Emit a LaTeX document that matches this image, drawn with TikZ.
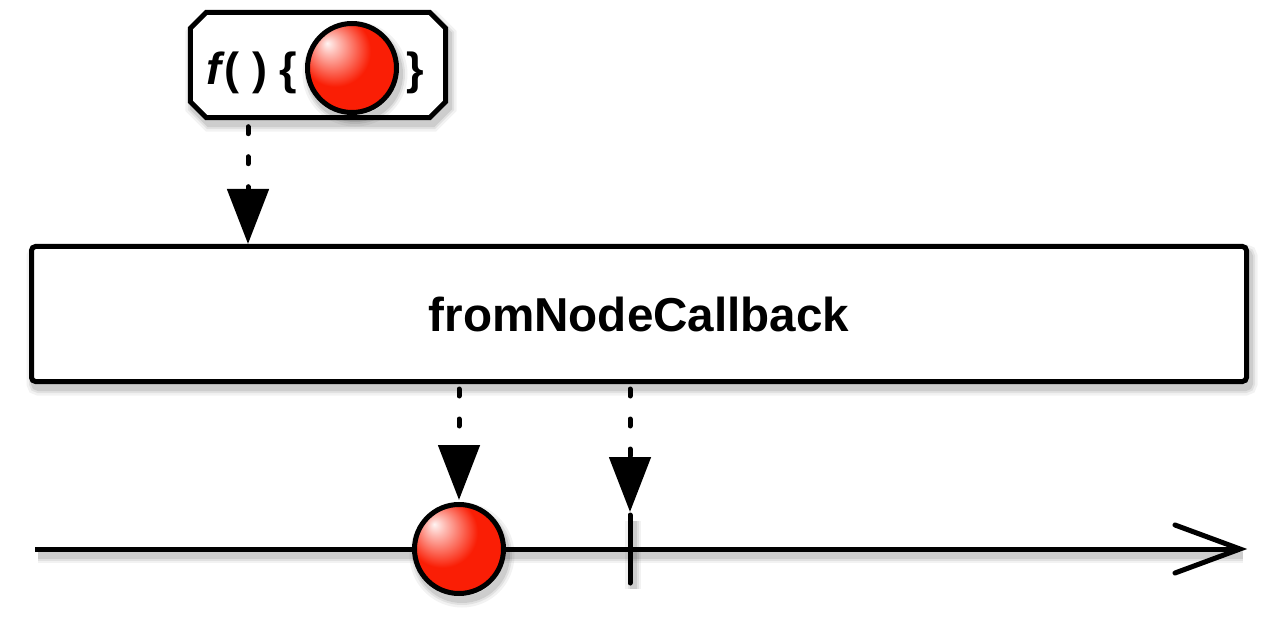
\documentclass[tikz,border=0pt]{standalone}
\usepackage{fontspec}
\setmainfont{Liberation Sans}
\usetikzlibrary{arrows.meta,calc}
\definecolor{ballred}{RGB}{250,30,5}
\pgfdeclareradialshading{redball}{\pgfpoint{-14bp}{14bp}}{%
  color(0bp)=(white!95!ballred); color(5bp)=(white!70!ballred); color(20bp)=(ballred);
  color(36bp)=(ballred); color(48bp)=(ballred!75!black); color(62bp)=(ballred!50!black)}
\begin{document}
\begin{tikzpicture}[x=1pt,y=-1pt,
  thick line/.style={line width=5pt},
  softshadow/.style={
    preaction={draw=black,opacity=0.05,line width=16pt,transform canvas={shift={(3pt,-6pt)}}},
    preaction={draw=black,opacity=0.07,line width=11pt,transform canvas={shift={(3pt,-6pt)}}},
    preaction={draw=black,opacity=0.09,line width=7pt,transform canvas={shift={(3pt,-6pt)}}}},
  dotline/.style={line width=5pt, line cap=round, dash pattern=on 7pt off 23pt,
    -{Triangle[length=55pt,width=41pt]}},
  ballnode/.style={circle, draw=black, line width=5pt, shading=redball,
    minimum size=89pt, inner sep=0pt, softshadow},
  funcframe/.style={draw=black, fill=white, line width=5pt, line join=miter, softshadow},
  mainbox/.style={rectangle, rounded corners=4pt, draw=black, fill=white, line width=5pt,
    minimum width=1215pt, minimum height=135pt, inner sep=0pt, softshadow,
    font=\fontsize{47.6}{50}\selectfont\bfseries},
  txt/.style={inner sep=0pt, font=\fontsize{45}{48}\selectfont\bfseries},
]
\useasboundingbox (0,0) rectangle (1280,620);

% function box (chamfered frame)
\node[minimum width=255pt, minimum height=105pt, inner sep=0pt] (fbox) at (318,65) {};
\draw[funcframe]
  ($(fbox.north west)+(16,0)$) -- ($(fbox.north east)+(-16,0)$) -- ($(fbox.north east)+(0,16)$)
  -- ($(fbox.south east)+(0,-16)$) -- ($(fbox.south east)+(-16,0)$) -- ($(fbox.south west)+(16,0)$)
  -- ($(fbox.south west)+(0,-16)$) -- ($(fbox.north west)+(0,16)$) -- cycle;
\node[txt, anchor=base west] (ftext) at (206,85) {\textit{f}( ) \{};
\node[ballnode] (fball) at (352,68) {};
\node[txt, anchor=base west] (fclose) at (406,85) {\}};

% operator box
\node[mainbox] (op) at (639,314) {fromNodeCallback};

% input arrow
\coordinate (t1) at (248,244);
\draw[dotline] ($(fbox.south -| t1)+(0,9)$) -- (t1);

% timeline
\coordinate (tl0) at (35,549);
\coordinate (tl1) at (1240,549);
\draw[thick line, softshadow] (tl0) -- (tl1);
\draw[thick line, line cap=round, miter limit=10] ($(tl1)+(-65,-24)$) -- (tl1) -- ($(tl1)+(-65,24)$);

% tick (completion)
\coordinate (k1) at (630,515);
\coordinate (k2) at (630,583);
\draw[thick line, line cap=round, softshadow] (k1) -- (k2);

% emitted ball
\node[ballnode] (b1) at (459,549) {};

\coordinate (t2) at (459,500);
\draw[dotline] ($(op.south -| t2)+(0,5)$) -- (t2);
\coordinate (t3) at (630,512);
\draw[dotline] ($(op.south -| t3)+(0,5)$) -- (t3);
\end{tikzpicture}
\end{document}
